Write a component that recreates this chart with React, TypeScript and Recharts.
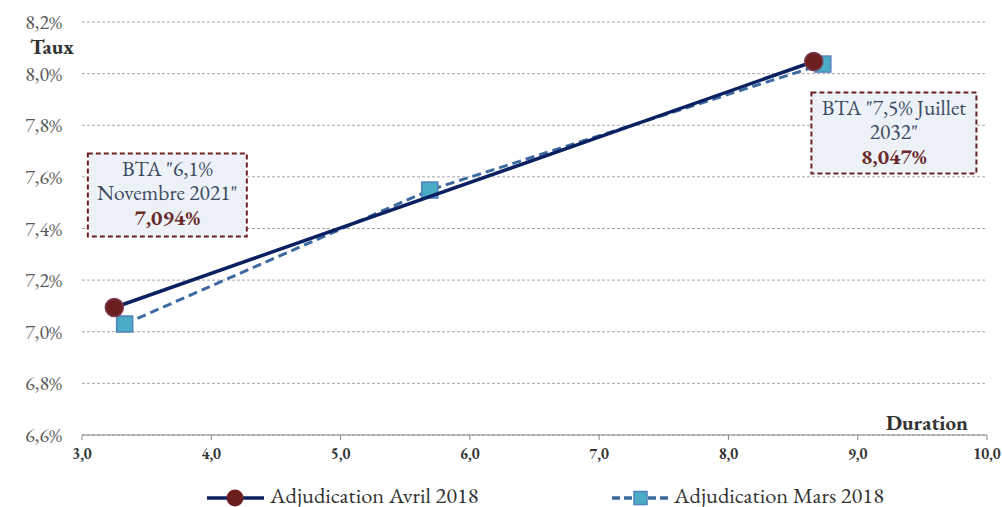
import {
  ComposedChart,
  Scatter,
  XAxis,
  YAxis,
  CartesianGrid,
  ReferenceDot,
} from 'recharts';

// durations / taux
const avrilPoints = [
  { x: 3.25, y: 7.094 },
  { x: 8.66, y: 8.047 },
];
const marsPoints = [
  { x: 3.33, y: 7.03 },
  { x: 5.69, y: 7.549 },
  { x: 8.73, y: 8.037 },
];
const xTicks = [3, 4, 5, 6, 7, 8, 9, 10];
const yTicks = [6.6, 6.8, 7.0, 7.2, 7.4, 7.6, 7.8, 8.0, 8.2];
const seriesNames = ['Adjudication Avril 2018', 'Adjudication Mars 2018'];

const annotations = [
  { x: 3.66, y: 7.53, w: 159, h: 83, lines: ['BTA "6,1%', 'Novembre 2021"'], value: '7,094%' },
  { x: 9.28, y: 7.77, w: 165, h: 81, lines: ['BTA "7,5% Juillet', '2032"'], value: '8,047%' },
];

const FONT = '"EB Garamond", "Liberation Serif", serif';
const NAVY = '#0b2060';
const STEEL = '#3d6aa0';
const MAROON = '#6d1f1f';

const fmtX = (v: number) => v.toFixed(1).replace('.', ',');
const fmtY = (v: number) => v.toFixed(1).replace('.', ',') + '%';

function CircleMarker(props: any) {
  const { cx, cy } = props;
  if (cx == null || cy == null) return null;
  return <circle cx={cx} cy={cy} r={9} fill={MAROON} stroke="#7a3b55" strokeWidth={1.5} />;
}

function SquareMarker(props: any) {
  const { cx, cy } = props;
  if (cx == null || cy == null) return null;
  return (
    <rect x={cx - 8} y={cy - 8} width={16} height={16} fill="#4bacc6" stroke="#4f81bd" strokeWidth={1.5} />
  );
}

function AnnotBox({ cx, cy, a }: any) {
  if (cx == null || cy == null) return null;
  const top = cy - a.h / 2;
  return (
    <g>
      <rect
        x={cx - a.w / 2}
        y={top}
        width={a.w}
        height={a.h}
        fill="#edf1f8"
        stroke="#6b2222"
        strokeWidth={2}
        strokeDasharray="5 3"
      />
      {a.lines.map((t: string, i: number) => (
        <text
          key={i}
          x={cx}
          y={top + 23 + i * 23.5}
          textAnchor="middle"
          style={{ fontFamily: FONT }}
          fontSize={21.5}
          fill="#3b4a5e"
        >
          {t}
        </text>
      ))}
      <text
        x={cx}
        y={top + 72}
        textAnchor="middle"
        style={{ fontFamily: FONT }}
        fontSize={21.5}
        fontWeight="bold"
        fill="#6b2a2a"
      >
        {a.value}
      </text>
    </g>
  );
}

export default function App() {
  return (
    <div style={{ position: 'absolute', left: 0, top: 0, width: 1002, height: 507, background: '#fff', fontFamily: FONT, overflow: 'hidden' }}>
      <ComposedChart width={1002} height={507} margin={{ top: 22, right: 15, left: 0, bottom: 0 }} style={{ fontFamily: FONT }}>
        <CartesianGrid vertical={false} stroke="#a6a6a6" strokeDasharray="3 2" />
        <XAxis
          type="number"
          dataKey="x"
          domain={[3, 10]}
          ticks={xTicks}
          tickFormatter={fmtX}
          height={72}
          stroke="#888"
          tickSize={5}
          tickMargin={8}
          tick={{ fill: '#333', fontSize: 15, fontWeight: 'bold', style: { fontFamily: FONT } }}
          label={(p: any) => {
            const vb = p.viewBox;
            return (
              <text x={vb.x + vb.width - 19} y={vb.y - 5} textAnchor="end" style={{ fontFamily: FONT }} fontSize={21} fontWeight="bold" fill="#333">
                Duration
              </text>
            );
          }}
        />
        <YAxis
          type="number"
          dataKey="y"
          domain={[6.6, 8.2]}
          ticks={yTicks}
          tickFormatter={fmtY}
          width={82}
          axisLine={false}
          tickLine={false}
          tickMargin={14}
          tick={{ fill: '#595959', fontSize: 20, style: { fontFamily: FONT } }}
          label={(p: any) => {
            const vb = p.viewBox;
            return (
              <text x={vb.x + 52} y={vb.y + 32} textAnchor="middle" style={{ fontFamily: FONT }} fontSize={21} fontWeight="bold" fill="#333">
                Taux
              </text>
            );
          }}
        />
        <Scatter
          name={seriesNames[1]}
          data={marsPoints}
          line={{ stroke: STEEL, strokeWidth: 3, strokeDasharray: '9 5' }}
          lineType="joint"
          shape={SquareMarker}
          isAnimationActive={false}
        />
        <Scatter
          name={seriesNames[0]}
          data={avrilPoints}
          line={{ stroke: NAVY, strokeWidth: 3.5 }}
          lineType="joint"
          shape={CircleMarker}
          isAnimationActive={false}
        />
        {annotations.map((a, i) => (
          <ReferenceDot
            key={i}
            x={a.x}
            y={a.y}
            r={0}
            shape={(p: any) => <AnnotBox cx={p.cx} cy={p.cy} a={a} />}
          />
        ))}
      </ComposedChart>
      <div style={{ position: 'absolute', left: 0, top: 483, width: 1002, height: 24, fontSize: 22.5, lineHeight: '24px', color: '#333' }}>
        <div style={{ position: 'absolute', left: 205, top: 0, display: 'flex', alignItems: 'center' }}>
          <svg width={62} height={24}>
            <line x1={2} y1={15} x2={59} y2={15} stroke={NAVY} strokeWidth={3.5} />
            <circle cx={30} cy={15} r={8.5} fill={MAROON} />
          </svg>
          <span style={{ marginLeft: 3, whiteSpace: 'nowrap' }}>{seriesNames[0]}</span>
        </div>
        <div style={{ position: 'absolute', left: 610, top: 0, display: 'flex', alignItems: 'center' }}>
          <svg width={62} height={24}>
            <line x1={2} y1={15} x2={60} y2={15} stroke={STEEL} strokeWidth={3.5} strokeDasharray="8 4" />
            <rect x={24} y={8.5} width={13} height={13} fill="#4bacc6" stroke="#4f81bd" strokeWidth={1.5} />
          </svg>
          <span style={{ marginLeft: 2, whiteSpace: 'nowrap' }}>{seriesNames[1]}</span>
        </div>
      </div>
    </div>
  );
}
